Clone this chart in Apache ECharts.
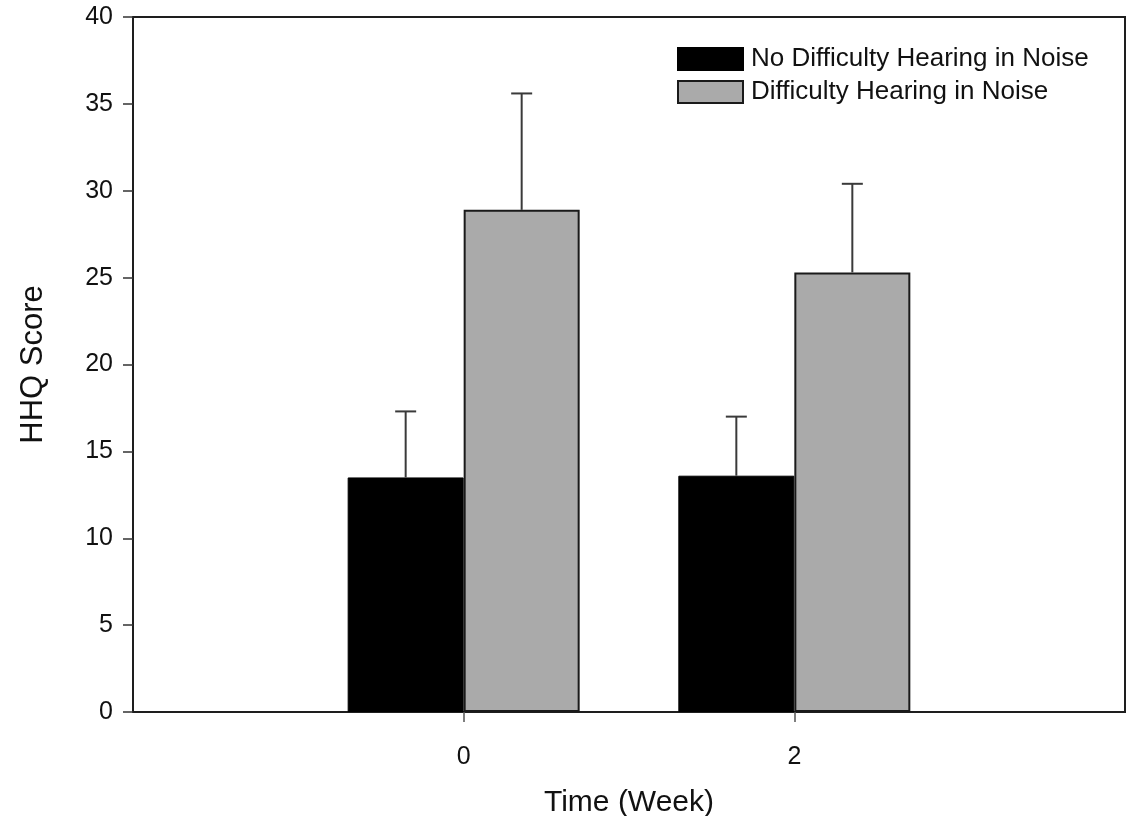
<!DOCTYPE html>
<html>
<head>
<meta charset="utf-8">
<script src="https://cdn.jsdelivr.net/npm/echarts@6/dist/echarts.min.js"></script>
<style>
html,body{margin:0;padding:0;background:#fff;}
#chart{width:1130px;height:816px;}
</style>
</head>
<body>
<div id="chart"></div>
<script>
// ---- data ----
const weeks = [0, 2];
const seriesNames = ['No Difficulty Hearing in Noise', 'Difficulty Hearing in Noise'];
const noDiffMean = [13.5, 13.6];
const noDiffErr = [3.8, 3.4];
const diffMean = [28.9, 25.3];
const diffErr = [6.7, 5.1];
const yTicks = [0, 5, 10, 15, 20, 25, 30, 35, 40];
const xTicks = [0, 2];

const FONT = '"Liberation Sans", Arial, sans-serif';
const BAR_W = 116;
const CAP_W = 21;

function pairs(xs, ys) { return xs.map((x, i) => [x, ys[i]]); }
function errData(xs, m, e) { return xs.map((x, i) => [x, m[i], m[i] + e[i]]); }

function errRender(offset) {
  return function (params, api) {
    const x = api.value(0);
    const p0 = api.coord([x, api.value(1)]);
    const p1 = api.coord([x, api.value(2)]);
    const cx = p0[0] + offset;
    const style = { stroke: '#3a3a3a', lineWidth: 2 };
    return {
      type: 'group',
      children: [
        { type: 'line', shape: { x1: cx, y1: p0[1], x2: cx, y2: p1[1] }, style },
        { type: 'line', shape: { x1: cx - CAP_W / 2, y1: p1[1], x2: cx + CAP_W / 2, y2: p1[1] }, style }
      ]
    };
  };
}

const chart = echarts.init(document.getElementById('chart'), null, { renderer: 'canvas' });
chart.setOption({
  backgroundColor: '#fff',
  animation: false,
  textStyle: { fontFamily: FONT },
  grid: {
    left: 133, right: 5, top: 17, bottom: 104,
    containLabel: false, outerBoundsMode: 'none',
    show: true, borderColor: '#1e1e1e', borderWidth: 2, backgroundColor: 'transparent'
  },
  legend: {
    orient: 'vertical',
    left: 672, top: 41,
    itemWidth: 65, itemHeight: 22, itemGap: 7,
    icon: 'rect',
    textStyle: { fontFamily: FONT, fontSize: 26, color: '#111', padding: [0, 0, 0, 3] },
    data: seriesNames
  },
  xAxis: {
    type: 'value',
    min: -2, max: 4, interval: 2,
    name: 'Time (Week)',
    nameLocation: 'middle',
    nameGap: 76,
    nameTextStyle: { fontFamily: FONT, fontSize: 30, color: '#111' },
    axisLine: { show: true, onZero: false, lineStyle: { color: '#1e1e1e', width: 2 } },
    axisTick: { show: true, length: 10, customValues: xTicks, lineStyle: { color: '#555', width: 1.5 } },
    axisLabel: { customValues: xTicks, margin: 33, fontSize: 25, color: '#111', fontFamily: FONT },
    splitLine: { show: false }
  },
  yAxis: {
    type: 'value',
    min: 0, max: 40, interval: 5,
    name: 'HHQ Score',
    nameLocation: 'middle',
    nameGap: 84,
    nameTextStyle: { fontFamily: FONT, fontSize: 31, color: '#111', verticalAlign: 'bottom' },
    axisLine: { show: true, onZero: false, lineStyle: { color: '#1e1e1e', width: 2 } },
    axisTick: { show: true, length: 10, lineStyle: { color: '#333', width: 1.5 } },
    axisLabel: { margin: 20, fontSize: 25, color: '#111', fontFamily: FONT },
    splitLine: { show: false }
  },
  series: [
    {
      name: seriesNames[0], type: 'bar',
      barWidth: BAR_W, barGap: '0%',
      itemStyle: { color: '#000000', borderColor: '#000000', borderWidth: 1 },
      data: pairs(weeks, noDiffMean), z: 2
    },
    {
      name: seriesNames[1], type: 'bar',
      barWidth: BAR_W, barGap: '0%',
      itemStyle: { color: '#aaaaaa', borderColor: '#1a1a1a', borderWidth: 2 },
      data: pairs(weeks, diffMean), z: 2
    },
    {
      type: 'custom', name: 'err0', renderItem: errRender(-BAR_W / 2),
      data: errData(weeks, noDiffMean, noDiffErr), z: 3, silent: true,
      encode: { x: 0, y: [1, 2] }
    },
    {
      type: 'custom', name: 'err1', renderItem: errRender(BAR_W / 2),
      data: errData(weeks, diffMean, diffErr), z: 3, silent: true,
      encode: { x: 0, y: [1, 2] }
    }
  ]
});
</script>
</body>
</html>
